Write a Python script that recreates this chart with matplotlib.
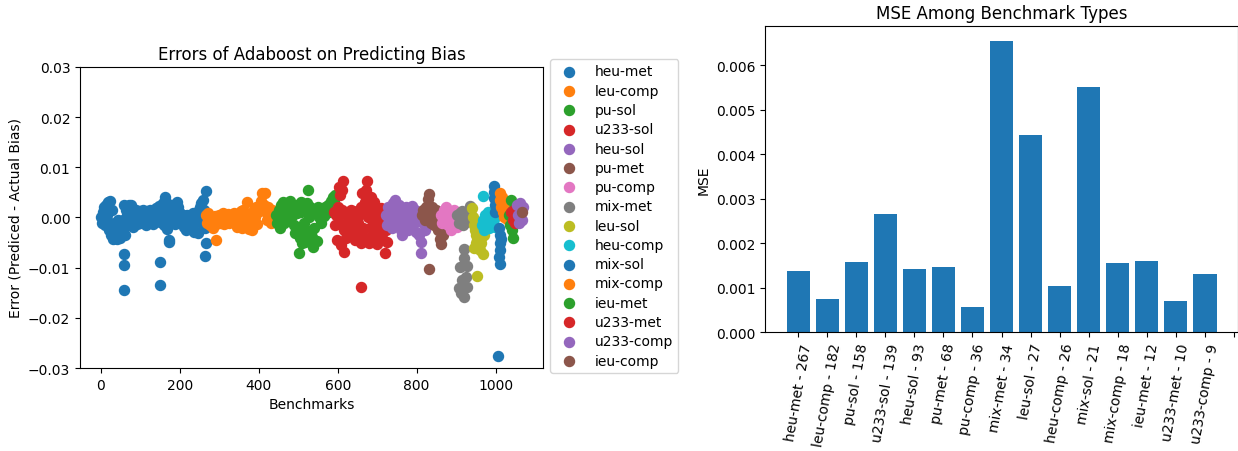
import numpy as np
import matplotlib
matplotlib.use("Agg")
import matplotlib.pyplot as plt

# benchmark types, in the order they appear along the x axis
types = ['heu-met', 'leu-comp', 'pu-sol', 'u233-sol', 'heu-sol', 'pu-met', 'pu-comp', 'mix-met',
         'leu-sol', 'heu-comp', 'mix-sol', 'mix-comp', 'ieu-met', 'u233-met', 'u233-comp', 'ieu-comp']

# benchmark counts and MSE per type (bar chart, ieu-comp has no bar)
bar_types = types[:15]
counts = [267, 182, 158, 139, 93, 68, 36, 34, 27, 26, 21, 18, 12, 10, 9]
mse = [0.00137, 0.00075, 0.00158, 0.00265, 0.00142, 0.00147, 0.00057, 0.00655,
       0.00443, 0.00104, 0.00550, 0.00155, 0.00160, 0.00070, 0.00130]

# errors (in units of 1e-3), per type: benchmark index, error
heu_met_x = [0, 3, 5, 8, 10, 12, 14, 16, 18, 20, 22, 24, 26, 28, 30, 32, 34, 36, 38, 40, 42, 44, 46, 48,
             50, 52, 54, 56, 58, 58, 58, 58, 60, 62, 64, 66, 68, 70, 72, 74, 76, 78, 80, 82, 84, 86, 88,
             90, 92, 95, 98, 100, 103, 106, 109, 112, 115, 118, 121, 124, 127, 130, 133, 136, 139,
             142, 145, 148, 150, 150, 151, 154, 157, 160, 163, 164, 166, 168, 171, 173, 173, 176, 179,
             182, 185, 188, 191, 194, 196, 198, 201, 204, 207, 210, 213, 216, 219, 222, 225, 228, 231,
             234, 237, 240, 243, 246, 248, 250, 252, 254, 256, 258, 262, 264, 265, 266, 266, 263]
heu_met_y = [0.0, -1.0, 1.0, 2.0, -1.5, 1.0, 2.5, 0.5, 3.0, -2.5, 3.2, -1.0, -3.5, 1.5, -4.3, -2.0, -3.8,
             -1.0, -3.0, -4.2, -2.0, -0.5, -3.5, -4.0, -1.5, -3.0, -2.5, -0.5, 2.5, -7.3, -9.5, -14.4,
             -3.5, -1.0, 1.5, 0.5, -1.5, 2.5, 0.8, -1.0, 2.5, -1.0, 1.0, -1.8, 0.0, -1.0, 1.5, 0.5, -1.2,
             0.0, 1.2, -1.0, 0.8, 1.5, -0.5, 0.5, -1.5, 1.2, 0.0, 1.5, -0.5, 0.8, -1.2, 0.5, 1.8, -0.5,
             1.0, 2.2, -8.8, -13.5, -0.8, 0.5, 2.8, -1.5, 4.0, 3.0, 0.2, -2.3, 1.5, -4.4, -4.8, -1.0, 2.5,
             0.0, 1.5, -1.2, 2.0, 3.0, 2.0, -0.5, 0.8, -1.0, 0.5, -1.8, 0.0, -2.5, 0.5, -1.0, -2.0, 0.2,
             -1.5, 0.8, -2.8, -0.5, 1.0, -3.0, 0.5, 2.0, -1.0, 2.8, 1.0, 3.5, 1.5, -2.0, 0.3, 5.3, -5.0,
             -7.6]

leu_comp_x = [266, 268, 271, 274, 277, 280, 283, 286, 289, 292, 292, 295, 298, 301, 304, 307, 310, 313,
              316, 319, 322, 325, 328, 331, 334, 337, 340, 343, 346, 349, 352, 355, 358, 361, 363, 366,
              369, 372, 375, 378, 381, 384, 387, 390, 393, 396, 399, 402, 405, 409, 412, 415, 418, 421,
              424, 427, 430, 433, 436, 439, 442]
leu_comp_y = [0.5, -1.0, 0.8, -0.3, -1.5, 0.0, -2.0, -0.8, 0.2, -4.5, -1.2, -0.3, 0.5, -1.0, 0.2, -0.5,
              0.8, -1.3, 0.3, -0.2, 0.6, -1.0, 0.0, 0.5, -0.8, 0.9, -0.5, 0.3, -1.8, 0.6, -1.0, 1.2, -2.0,
              1.5, 1.0, -0.5, 3.0, 0.0, -2.3, -1.0, 0.8, -2.5, 1.5, 0.0, 2.0, -1.2, 1.0, 2.0, 3.3, 4.8,
              2.5, 4.8, 1.0, -0.5, 2.0, 0.5, -1.0, 1.5, 0.3, -0.8, 1.2]

pu_sol_x = [444, 447, 450, 453, 456, 459, 462, 465, 468, 471, 474, 477, 480, 483, 486, 489, 491, 496,
            498, 500, 501, 504, 506, 508, 509, 512, 514, 516, 518, 520, 522, 525, 526, 528, 530, 532,
            535, 538, 540, 543, 547, 549, 552, 555, 558, 561, 564, 567, 570, 573, 576, 579, 582, 585,
            588, 591, 594]
pu_sol_y = [0.5, -1.0, 1.5, -2.0, 2.5, 0.0, 3.0, -1.0, 1.0, 2.8, -0.5, 1.8, 3.3, 0.3, 2.0, -1.5, -3.0,
            0.8, 2.5, -2.0, -7.0, -4.0, 1.0, 3.0, -5.0, -3.5, -1.0, -4.8, 1.5, -2.5, 2.8, 5.4, 0.0, -4.3,
            2.0, -2.8, -3.8, -5.8, -2.0, 1.5, -4.7, 2.0, 0.0, 1.0, -1.0, 1.5, 0.3, 2.0, 0.8, 1.5, 2.5,
            1.0, 3.2, 2.0, 4.0, 3.0, 4.5]

u233_sol_x = [590, 593, 596, 598, 600, 602, 604, 606, 608, 610, 612, 614, 615, 617, 619, 621, 623, 625,
              627, 629, 631, 633, 635, 637, 639, 641, 643, 645, 647, 649, 651, 653, 655, 658, 660, 660,
              662, 664, 666, 668, 670, 672, 674, 676, 678, 680, 682, 684, 686, 688, 690, 692, 694, 696,
              698, 700, 702, 704, 706, 708, 710, 712, 715, 718, 721, 723, 726, 729, 732]
u233_sol_y = [1.0, -1.5, 0.5, -4.5, 2.0, 6.0, -1.0, 4.5, -5.5, 1.5, 5.5, 7.3, -2.5, -6.8, 0.5, -4.0,
              -1.5, 1.0, -3.0, 0.0, -2.2, 1.5, -0.5, -3.5, 0.8, -1.8, -4.5, 0.0, -2.5, 1.2, -1.0, -3.0,
              0.5, 2.0, -13.9, -5.0, 4.8, -2.0, 1.5, 3.0, -3.8, 5.5, 7.3, 0.0, -5.0, 2.5, -2.0, 4.0, -4.5,
              1.0, -1.0, 3.0, -3.2, 0.5, 2.0, -5.2, -1.5, 1.0, -2.8, 0.0, 1.8, -4.0, -1.0, 0.5, -7.0,
              -2.5, -4.8, -0.5, 1.0]

heu_sol_x = [722, 725, 728, 731, 734, 737, 740, 743, 746, 749, 752, 755, 758, 761, 763, 766, 769, 772,
             775, 778, 781, 784, 787, 790, 793, 796, 799, 802, 805, 808, 811, 812, 815, 818, 821, 824]
heu_sol_y = [0.5, -1.5, 2.0, -0.5, 1.0, -2.0, 2.8, 0.0, 3.5, 1.5, -1.0, 2.5, 0.5, -2.5, -3.5, 1.8, -1.0,
             2.0, 0.0, -2.5, 1.5, -1.5, 2.2, 0.0, -1.0, 1.5, -2.8, 0.5, -3.5, 1.0, -7.0, -4.8, -1.0, 0.8,
             -2.5, 0.0]

pu_met_x = [814, 817, 820, 823, 826, 829, 831, 831, 833, 836, 839, 842, 845, 848, 851, 854, 857, 859,
            861, 863, 866, 869, 872, 875]
pu_met_y = [0.5, 1.5, -0.5, 2.0, 0.0, 3.7, 4.7, -10.2, 1.0, -1.0, 2.0, 0.3, -1.5, 1.5, -0.8, -2.5, 0.5,
            -4.3, -5.3, -1.5, -3.5, 0.0, -2.2, -1.0]

pu_comp_x = [862, 865, 868, 871, 874, 877, 880, 883, 886, 889, 892, 895, 898, 901, 904]
pu_comp_y = [0.5, -1.0, 1.5, -0.5, 2.0, 0.0, -1.5, 1.0, -2.5, 0.5, -1.0, 1.5, -0.3, -1.8, 0.3]

mix_met_x = [903, 906, 909, 912, 915, 918, 921, 924, 927, 930, 933, 936, 938, 920, 920, 928, 911, 926,
             907, 928, 920, 912, 915]
mix_met_y = [0.5, -1.0, 0.8, -0.3, 1.2, -1.5, 0.2, -0.8, 1.0, -0.2, 1.5, 2.3, 0.5, -6.3, -8.0, -9.6,
             -9.9, -11.9, -14.1, -13.9, -15.9, -15.0, -12.5]

leu_sol_x = [940, 942, 945, 948, 950, 952, 954, 956, 958, 960, 962, 964, 966, 968, 970, 972, 953, 946, 950]
leu_sol_y = [1.8, 0.0, -1.5, -2.5, -3.5, -4.5, -2.0, -5.5, -3.0, -6.5, -4.0, -5.0, -2.8, -7.3, -3.5,
             -1.8, -11.6, -6.0, -5.0]

heu_comp_x = [965, 968, 969, 971, 974, 977, 980, 983, 986, 989, 992, 995, 998]
heu_comp_y = [-1.5, -0.5, 4.3, -2.5, 0.5, -1.0, 1.0, -2.0, 0.0, -1.2, 0.8, -0.3, -1.8]

mix_sol_x = [995, 996, 997, 998, 999, 1000, 1003, 1008, 1010, 1012, 1011, 1009, 1010, 1006, 1013]
mix_sol_y = [6.3, 5.0, 3.8, 2.5, 1.0, 4.3, 2.0, -2.0, -3.5, -5.0, -6.5, -7.8, -9.3, -27.7, -4.2]

mix_comp_x = [1010, 1012, 1014, 1016, 1018, 1020, 1022, 1024, 1026, 1028, 1030]
mix_comp_y = [4.8, 3.5, 2.0, 4.0, 1.0, 2.8, 0.0, 1.8, 3.0, 0.8, -0.3]

ieu_met_x = [1033, 1036, 1039, 1041, 1043, 1045, 1047, 1049]
ieu_met_y = [0.5, -1.5, 3.5, -2.5, 1.5, -4.0, 0.0, -1.0]

u233_met_x = [1040, 1043, 1046, 1048, 1050]
u233_met_y = [1.0, -0.5, 1.5, 0.0, -1.0]

u233_comp_x = [1053, 1056, 1059, 1062, 1065, 1068, 1070]
u233_comp_y = [2.5, 0.5, -1.0, 2.8, 1.0, -0.5, 2.0]

ieu_comp_x = [1066]
ieu_comp_y = [1.0]

errors_x = [heu_met_x, leu_comp_x, pu_sol_x, u233_sol_x, heu_sol_x, pu_met_x, pu_comp_x, mix_met_x,
            leu_sol_x, heu_comp_x, mix_sol_x, mix_comp_x, ieu_met_x, u233_met_x, u233_comp_x, ieu_comp_x]
errors_y = [heu_met_y, leu_comp_y, pu_sol_y, u233_sol_y, heu_sol_y, pu_met_y, pu_comp_y, mix_met_y,
            leu_sol_y, heu_comp_y, mix_sol_y, mix_comp_y, ieu_met_y, u233_met_y, u233_comp_y, ieu_comp_y]

plt.rcParams['font.size'] = 10

fig = plt.figure(figsize=(12.38, 4.52), dpi=100)

# left: scatter of errors
ax1 = fig.add_axes([0.0646, 0.1836, 0.374, 0.666])
for name, xs, ys in zip(types, errors_x, errors_y):
    ax1.scatter(xs, np.array(ys) / 1000, s=52, label=name)
ax1.set_xlim(-53, 1120)
ax1.set_ylim(-0.03, 0.03)
ax1.set_title("Errors of Adaboost on Predicting Bias", fontsize=12)
ax1.set_xlabel("Benchmarks")
ax1.set_ylabel("Error (Prediced - Actual Bias)")
ax1.legend(loc='upper left', bbox_to_anchor=(1.015, 1.027), borderaxespad=0, labelspacing=0.38)

# right: MSE bars
ax2 = fig.add_axes([0.618, 0.263, 0.382, 0.677])
pos = np.arange(len(bar_types))
ax2.bar(pos, mse)
labels = [f"{t} - {c}" for t, c in zip(bar_types, counts)]
ax2.set_xticks(np.arange(len(bar_types) + 1))
ax2.set_xticklabels(labels + [''], rotation=80)
ax2.set_title("MSE Among Benchmark Types", fontsize=12)
ax2.set_ylabel("MSE")

fig.savefig("out.png", dpi=100)
